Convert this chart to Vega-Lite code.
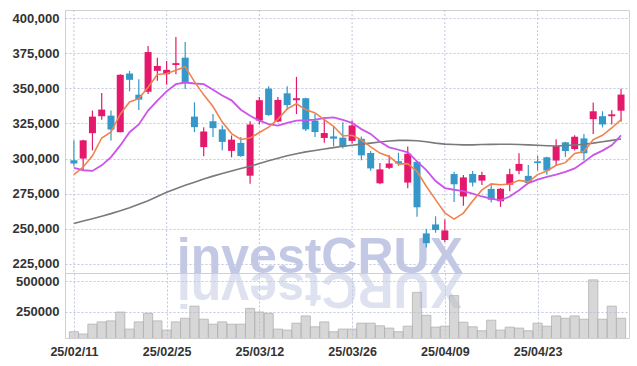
{
  "$schema": "https://vega.github.io/schema/vega-lite/v6.json",
  "padding": {"left": 5, "top": 9, "right": 9, "bottom": 0},
  "background": "white",
  "spacing": 0,
  "bounds": "flush",
  "config": {
    "concat": {"spacing": 0},
    "view": {"stroke": "#d0d0d0"},
    "axis": {"labelFont": "Liberation Sans", "labelFontWeight": "bold", "labelFontSize": 13, "labelColor": "#333333", "labelOverlap": false, "gridColor": "#c3c7dd", "gridDash": [2, 2], "ticks": false, "domain": false, "title": null}
  },
  "datasets": {
    "k": [
      {"i":0,"d":"25/02/11","o":298800,"h":313000,"l":294500,"c":296500,"v":83900,"m5":288600,"m20":293300,"m60":253800,"dir":"down"},
      {"i":1,"d":"25/02/12","o":300000,"h":313500,"l":291700,"c":313000,"v":65100,"m5":294000,"m20":291700,"m60":255500,"dir":"up"},
      {"i":2,"d":"25/02/13","o":318100,"h":334200,"l":305900,"c":329900,"v":146600,"m5":302000,"m20":291200,"m60":257200,"dir":"up"},
      {"i":3,"d":"25/02/14","o":330200,"h":346700,"l":327600,"c":334900,"v":165300,"m5":314700,"m20":295200,"m60":259000,"dir":"up"},
      {"i":4,"d":"25/02/17","o":330600,"h":334200,"l":312900,"c":320700,"v":173500,"m5":319000,"m20":301100,"m60":260800,"dir":"down"},
      {"i":5,"d":"25/02/18","o":318800,"h":360100,"l":318800,"c":359700,"v":246700,"m5":331600,"m20":309400,"m60":262800,"dir":"up"},
      {"i":6,"d":"25/02/19","o":360600,"h":362500,"l":347900,"c":356100,"v":105900,"m5":340300,"m20":318800,"m60":265000,"dir":"down"},
      {"i":7,"d":"25/02/20","o":345500,"h":356600,"l":334600,"c":342000,"v":165300,"m5":342700,"m20":324300,"m60":267500,"dir":"down"},
      {"i":8,"d":"25/02/21","o":347600,"h":380200,"l":346000,"c":375900,"v":236200,"m5":350900,"m20":334200,"m60":270000,"dir":"up"},
      {"i":9,"d":"25/02/24","o":362500,"h":371900,"l":355400,"c":366000,"v":173500,"m5":359900,"m20":341300,"m60":273000,"dir":"up"},
      {"i":10,"d":"25/02/25","o":360100,"h":369600,"l":352600,"c":363200,"v":97700,"m5":360600,"m20":347900,"m60":276000,"dir":"up"},
      {"i":11,"d":"25/02/26","o":366700,"h":386600,"l":360100,"c":368000,"v":165300,"m5":363000,"m20":353000,"m60":278500,"dir":"up"},
      {"i":12,"d":"25/02/27","o":371900,"h":383000,"l":349500,"c":354200,"v":195400,"m5":365500,"m20":354200,"m60":281000,"dir":"down"},
      {"i":13,"d":"25/02/28","o":329900,"h":340100,"l":318800,"c":322400,"v":295600,"m5":354800,"m20":353500,"m60":283200,"dir":"down"},
      {"i":14,"d":"25/03/04","o":308200,"h":322400,"l":301600,"c":319300,"v":187300,"m5":345400,"m20":353000,"m60":285500,"dir":"up"},
      {"i":15,"d":"25/03/05","o":326600,"h":331700,"l":315400,"c":321700,"v":146600,"m5":337100,"m20":349000,"m60":287500,"dir":"down"},
      {"i":16,"d":"25/03/06","o":320800,"h":323600,"l":306000,"c":311900,"v":165300,"m5":326000,"m20":345000,"m60":289400,"dir":"down"},
      {"i":17,"d":"25/03/07","o":305500,"h":316500,"l":300900,"c":313500,"v":146600,"m5":317800,"m20":341500,"m60":291200,"dir":"up"},
      {"i":18,"d":"25/03/10","o":311200,"h":315400,"l":301300,"c":301800,"v":146600,"m5":313600,"m20":334800,"m60":293000,"dir":"down"},
      {"i":19,"d":"25/03/11","o":287800,"h":326600,"l":282100,"c":324300,"v":276900,"m5":314600,"m20":330500,"m60":294500,"dir":"up"},
      {"i":20,"d":"25/03/12","o":327100,"h":343900,"l":324300,"c":341600,"v":246700,"m5":318600,"m20":327000,"m60":296500,"dir":"up"},
      {"i":21,"d":"25/03/13","o":349800,"h":351600,"l":330600,"c":331000,"v":236200,"m5":322400,"m20":324500,"m60":298500,"dir":"down"},
      {"i":22,"d":"25/03/14","o":326400,"h":343900,"l":325900,"c":341800,"v":105900,"m5":328100,"m20":323500,"m60":300300,"dir":"up"},
      {"i":23,"d":"25/03/17","o":346500,"h":351600,"l":334600,"c":338100,"v":97700,"m5":335400,"m20":325500,"m60":302000,"dir":"down"},
      {"i":24,"d":"25/03/18","o":341600,"h":358200,"l":331700,"c":343000,"v":154700,"m5":339100,"m20":327000,"m60":303500,"dir":"up"},
      {"i":25,"d":"25/03/19","o":343000,"h":343400,"l":319600,"c":320800,"v":214200,"m5":334900,"m20":327300,"m60":304800,"dir":"down"},
      {"i":26,"d":"25/03/20","o":327100,"h":331700,"l":315400,"c":318900,"v":124600,"m5":332500,"m20":327800,"m60":305800,"dir":"down"},
      {"i":27,"d":"25/03/21","o":314700,"h":329400,"l":311200,"c":318200,"v":165300,"m5":327800,"m20":328800,"m60":306800,"dir":"up"},
      {"i":28,"d":"25/03/24","o":315800,"h":322900,"l":308800,"c":314200,"v":83900,"m5":323000,"m20":329300,"m60":307800,"dir":"down"},
      {"i":29,"d":"25/03/25","o":314900,"h":325900,"l":307200,"c":308300,"v":105900,"m5":316100,"m20":327500,"m60":308800,"dir":"down"},
      {"i":30,"d":"25/03/26","o":312600,"h":327100,"l":310700,"c":323600,"v":105900,"m5":316600,"m20":325500,"m60":309500,"dir":"up"},
      {"i":31,"d":"25/03/27","o":314100,"h":315700,"l":298800,"c":302300,"v":154700,"m5":313300,"m20":321000,"m60":310300,"dir":"down"},
      {"i":32,"d":"25/03/28","o":304000,"h":305400,"l":291300,"c":293000,"v":154700,"m5":308300,"m20":317600,"m60":311000,"dir":"down"},
      {"i":33,"d":"25/03/31","o":282400,"h":296900,"l":281700,"c":292300,"v":133000,"m5":303900,"m20":312000,"m60":311800,"dir":"up"},
      {"i":34,"d":"25/04/01","o":293400,"h":302300,"l":292500,"c":296500,"v":114000,"m5":301500,"m20":308000,"m60":312500,"dir":"up"},
      {"i":35,"d":"25/04/02","o":298100,"h":304200,"l":294800,"c":296500,"v":83900,"m5":296100,"m20":306300,"m60":313000,"dir":"down"},
      {"i":36,"d":"25/04/03","o":282900,"h":308700,"l":278900,"c":303500,"v":130000,"m5":296400,"m20":304500,"m60":313000,"dir":"up"},
      {"i":37,"d":"25/04/04","o":297700,"h":297700,"l":258500,"c":265300,"v":409600,"m5":290800,"m20":298000,"m60":312700,"dir":"down"},
      {"i":38,"d":"25/04/07","o":246700,"h":250000,"l":236600,"c":239700,"v":219900,"m5":280300,"m20":291800,"m60":312000,"dir":"down"},
      {"i":39,"d":"25/04/08","o":253100,"h":258900,"l":247200,"c":249100,"v":122000,"m5":270800,"m20":284000,"m60":311000,"dir":"down"},
      {"i":40,"d":"25/04/09","o":242000,"h":256600,"l":240600,"c":248800,"v":130000,"m5":261300,"m20":279000,"m60":310300,"dir":"up"},
      {"i":41,"d":"25/04/10","o":289000,"h":290600,"l":269000,"c":281700,"v":382500,"m5":256900,"m20":277800,"m60":310000,"dir":"down"},
      {"i":42,"d":"25/04/11","o":273000,"h":288300,"l":266400,"c":286600,"v":162600,"m5":261200,"m20":276800,"m60":309800,"dir":"up"},
      {"i":43,"d":"25/04/14","o":289000,"h":291100,"l":280100,"c":282900,"v":124600,"m5":269800,"m20":275000,"m60":309800,"dir":"down"},
      {"i":44,"d":"25/04/15","o":284300,"h":290600,"l":281200,"c":288300,"v":92000,"m5":277700,"m20":273000,"m60":310000,"dir":"up"},
      {"i":45,"d":"25/04/16","o":278400,"h":281200,"l":268800,"c":270700,"v":179000,"m5":282000,"m20":271500,"m60":310100,"dir":"down"},
      {"i":46,"d":"25/04/17","o":269600,"h":279000,"l":265600,"c":278500,"v":97700,"m5":281400,"m20":270300,"m60":310200,"dir":"up"},
      {"i":47,"d":"25/04/18","o":281400,"h":292700,"l":276700,"c":288900,"v":122000,"m5":281900,"m20":273000,"m60":310200,"dir":"up"},
      {"i":48,"d":"25/04/21","o":291300,"h":303800,"l":288900,"c":296200,"v":114000,"m5":284500,"m20":277500,"m60":310000,"dir":"up"},
      {"i":49,"d":"25/04/22","o":287700,"h":295500,"l":282100,"c":282600,"v":92000,"m5":283400,"m20":282500,"m60":309800,"dir":"down"},
      {"i":50,"d":"25/04/23","o":298000,"h":301900,"l":291500,"c":296800,"v":154700,"m5":288600,"m20":285000,"m60":309500,"dir":"down"},
      {"i":51,"d":"25/04/24","o":300900,"h":301400,"l":288500,"c":291500,"v":130000,"m5":291200,"m20":287000,"m60":309200,"dir":"down"},
      {"i":52,"d":"25/04/25","o":298600,"h":313700,"l":294800,"c":309000,"v":214200,"m5":295200,"m20":288500,"m60":309000,"dir":"up"},
      {"i":53,"d":"25/04/28","o":311600,"h":312000,"l":301400,"c":305400,"v":195400,"m5":297100,"m20":290500,"m60":309300,"dir":"down"},
      {"i":54,"d":"25/04/29","o":306800,"h":316700,"l":305700,"c":315600,"v":214200,"m5":303700,"m20":293000,"m60":309700,"dir":"up"},
      {"i":55,"d":"25/04/30","o":314400,"h":317500,"l":298600,"c":303800,"v":187300,"m5":305000,"m20":297500,"m60":310200,"dir":"down"},
      {"i":56,"d":"25/05/02","o":328100,"h":339900,"l":317500,"c":333700,"v":512900,"m5":313500,"m20":302500,"m60":311000,"dir":"up"},
      {"i":57,"d":"25/05/07","o":330200,"h":333700,"l":322200,"c":324300,"v":187300,"m5":316600,"m20":305700,"m60":312000,"dir":"down"},
      {"i":58,"d":"25/05/08","o":330200,"h":334400,"l":324300,"c":331500,"v":295600,"m5":321800,"m20":309500,"m60":313000,"dir":"up"},
      {"i":59,"d":"25/05/09","o":334100,"h":349800,"l":326300,"c":345600,"v":195400,"m5":327800,"m20":316500,"m60":314000,"dir":"up"}
    ]
  },
  "vconcat": [
    {
      "width": 564,
      "height": 263,
      "data": {"name": "k"},
      "layer": [
        {
          "transform": [{"filter": "datum.i % 10 == 0"}],
          "mark": {"type": "rule", "color": "#c3c7dd", "strokeDash": [2, 2], "strokeWidth": 1},
          "encoding": {
            "x": {"field": "i", "type": "quantitative", "scale": {"domain": [-0.42, 59.32], "nice": false, "zero": false}, "axis": null}
          }
        },
        {
          "data": {"values": [{}]},
          "mark": {"type": "text", "text": "investCRUX", "font": "Liberation Sans", "fontWeight": "bold", "fontSize": 50, "align": "left", "baseline": "alphabetic", "color": "#c3c9e4"},
          "encoding": {
            "x": {"datum": 11.1, "type": "quantitative"},
            "y": {"datum": 218500, "type": "quantitative"}
          }
        },
        {
          "mark": {"type": "rule", "strokeWidth": 1.2},
          "encoding": {
            "x": {"field": "i", "type": "quantitative"},
            "y": {"field": "l", "type": "quantitative", "scale": {"domain": [218500, 405850], "nice": false, "zero": false},
                  "axis": {"values": [225000, 250000, 275000, 300000, 325000, 350000, 375000, 400000], "tickCount": 20, "format": ",.0f", "labelOverlap": false, "labelPadding": 6, "minExtent": 59, "maxExtent": 59, "grid": true}},
            "y2": {"field": "h"},
            "color": {"field": "dir", "type": "nominal", "scale": {"domain": ["up", "down"], "range": ["#e5196b", "#3598c9"]}, "legend": null}
          }
        },
        {
          "mark": {"type": "bar", "size": 7},
          "encoding": {
            "x": {"field": "i", "type": "quantitative"},
            "y": {"field": "o", "type": "quantitative"},
            "y2": {"field": "c"},
            "color": {"field": "dir", "type": "nominal", "legend": null}
          }
        },
        {
          "mark": {"type": "line", "color": "#7a7a7a", "strokeWidth": 1.6},
          "encoding": {"x": {"field": "i", "type": "quantitative"}, "y": {"field": "m60", "type": "quantitative"}}
        },
        {
          "mark": {"type": "line", "color": "#c955ea", "strokeWidth": 1.8},
          "encoding": {"x": {"field": "i", "type": "quantitative"}, "y": {"field": "m20", "type": "quantitative"}}
        },
        {
          "mark": {"type": "line", "color": "#ee8350", "strokeWidth": 1.6},
          "encoding": {"x": {"field": "i", "type": "quantitative"}, "y": {"field": "m5", "type": "quantitative"}}
        }
      ]
    },
    {
      "width": 564,
      "height": 65,
      "data": {"name": "k"},
      "layer": [
        {
          "data": {"values": [{}]},
          "mark": {"type": "text", "text": "XURCtsevni", "font": "Liberation Sans", "fontWeight": "bold", "fontSize": 50, "align": "right", "baseline": "alphabetic", "angle": 180, "color": "#c3c9e4", "opacity": 0.55},
          "encoding": {
            "x": {"datum": 11.1, "type": "quantitative"},
            "y": {"datum": 569500, "type": "quantitative"}
          }
        },
        {
          "mark": {"type": "bar", "size": 9.2, "clip": true, "fill": "#bdbdbd", "fillOpacity": 0.6, "stroke": "#b3b3b3", "strokeWidth": 0.8},
          "encoding": {
            "x": {"field": "i", "type": "quantitative", "scale": {"domain": [-0.42, 59.32], "nice": false, "zero": false},
                  "axis": {"values": [0, 10, 20, 30, 40, 50], "tickCount": 20, "grid": true, "labelFlush": false, "labelOverlap": false, "labelPadding": 7, "labelFontSize": 12.5,
                           "labelExpr": "datum.value == 0 ? '25/02/11' : datum.value == 10 ? '25/02/25' : datum.value == 20 ? '25/03/12' : datum.value == 30 ? '25/03/26' : datum.value == 40 ? '25/04/09' : '25/04/23'"}},
            "y": {"field": "v", "type": "quantitative", "scale": {"domain": [32000, 569500], "nice": false, "zero": false},
                  "axis": {"values": [250000, 500000], "tickCount": 10, "format": "d", "labelOverlap": false, "labelPadding": 6, "minExtent": 59, "maxExtent": 59, "grid": true}}
          }
        }
      ]
    }
  ]
}
